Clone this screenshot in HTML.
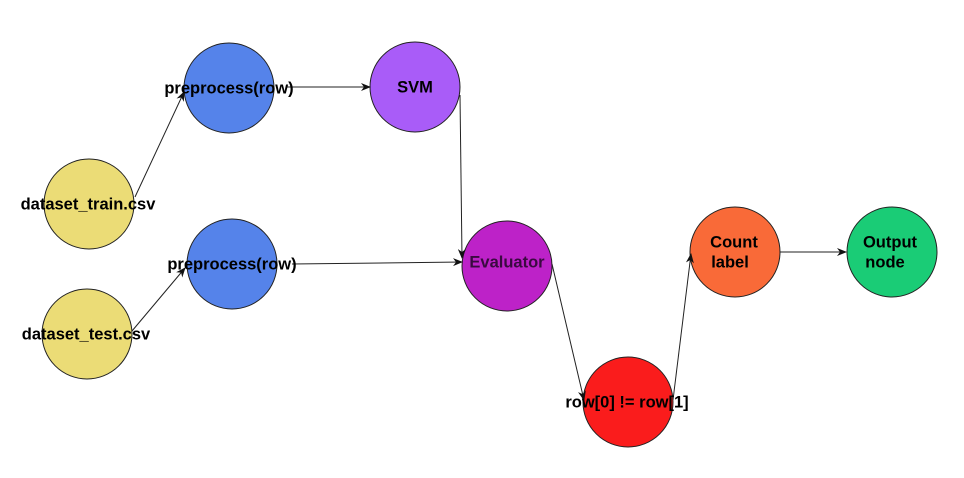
<!DOCTYPE html>
<html><head><style>
html,body{margin:0;padding:0;background:#fff;}
svg text{font-family:"Liberation Sans",sans-serif;font-weight:bold;font-size:16.5px;text-anchor:middle;dominant-baseline:middle;}
</style></head><body>
<svg width="964" height="473" viewBox="0 0 964 473" xmlns="http://www.w3.org/2000/svg">
<defs><marker id="a" markerWidth="10" markerHeight="8" refX="9" refY="4" orient="auto" markerUnits="userSpaceOnUse"><path d="M0,0 L10,4 L0,8 L3,4 Z" fill="#111"/></marker></defs>
<g stroke="#222" stroke-width="1">
<circle cx="89" cy="204" r="45" fill="#ebdc76"/>
<circle cx="87" cy="334" r="45" fill="#ebdc76"/>
<circle cx="229" cy="88" r="45" fill="#5583ea"/>
<circle cx="232" cy="264" r="45" fill="#5583ea"/>
<circle cx="415" cy="87" r="45" fill="#a95cf8"/>
<circle cx="507" cy="266" r="45" fill="#bd22c8"/>
<circle cx="628" cy="402" r="45" fill="#fa1c1c"/>
<circle cx="735" cy="252" r="45" fill="#f96a38"/>
<circle cx="892" cy="252" r="45" fill="#1acc76"/>
</g>
<g stroke="#222" stroke-width="1" fill="none" marker-end="url(#a)">
<line x1="135" y1="197" x2="184" y2="92"/>
<line x1="132" y1="331" x2="185" y2="268"/>
<line x1="287" y1="87" x2="370" y2="87"/>
<line x1="292" y1="264" x2="462" y2="262"/>
<polyline points="460,95 462,258"/>
<line x1="552" y1="264" x2="584" y2="400"/>
<line x1="673" y1="400" x2="691" y2="254"/>
<line x1="780" y1="252" x2="846" y2="252"/>
</g>
<text x="88" y="205">dataset_train.csv</text>
<text x="86" y="335">dataset_test.csv</text>
<text x="229" y="89">preprocess(row)</text>
<text x="232" y="265">preprocess(row)</text>
<text x="415" y="88">SVM</text>
<text x="507" y="263" fill="#3a0a40">Evaluator</text>
<text x="627" y="403">row[0] != row[1]</text>
<text x="734" y="243">Count</text>
<text x="730" y="263">label</text>
<text x="890" y="243">Output</text>
<text x="885" y="263">node</text>
</svg>
</body></html>
